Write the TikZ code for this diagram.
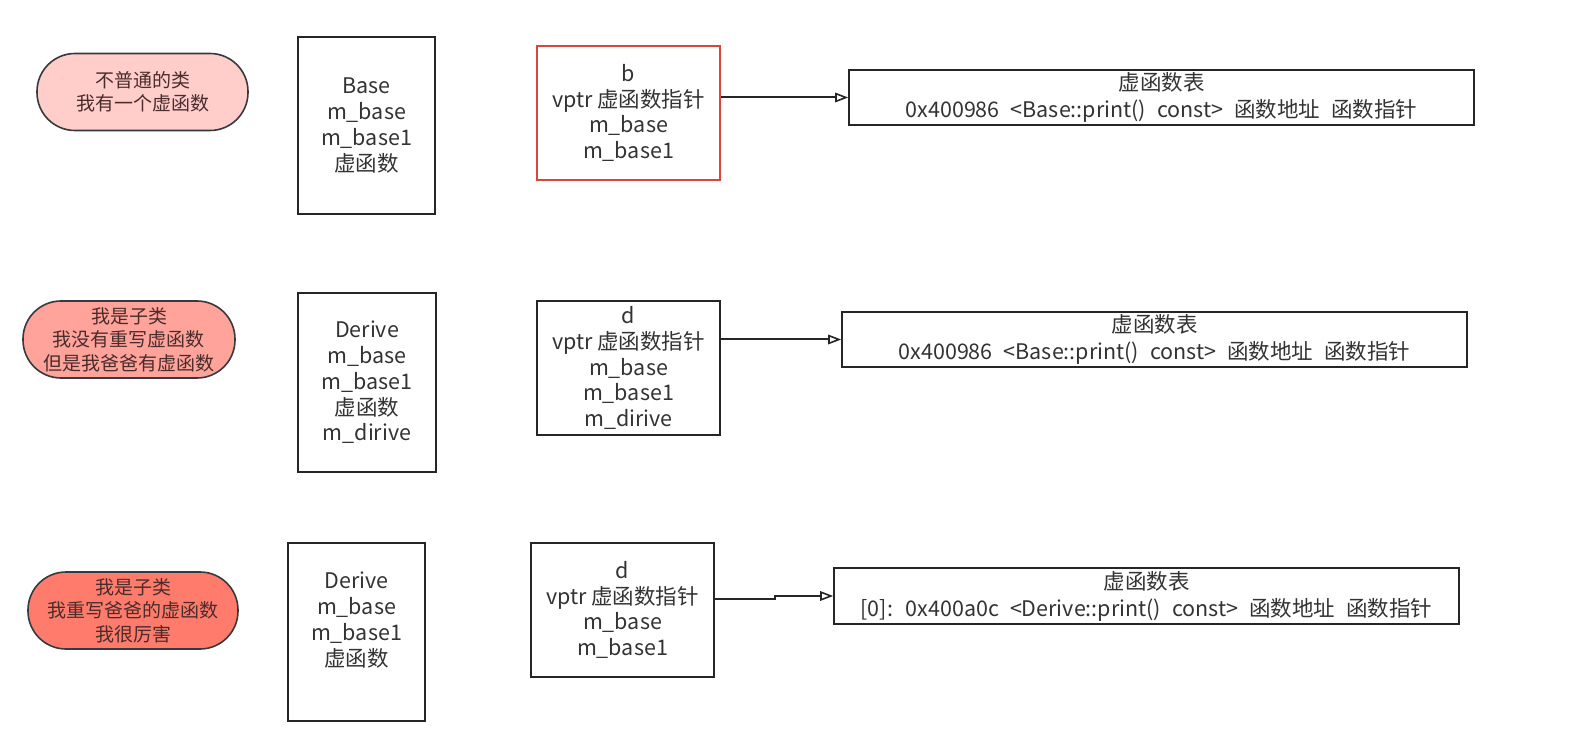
\documentclass[tikz,border=0pt]{standalone}
\usepackage{fontspec}
\setmainfont{Noto Sans CJK SC}
\usetikzlibrary{arrows.meta,calc}
\definecolor{inkgray}{HTML}{333333}
\definecolor{edgegray}{HTML}{36393D}
\definecolor{pinkA}{HTML}{FFCECA}
\definecolor{pinkB}{HTML}{FFA39B}
\definecolor{pinkC}{HTML}{FF7B6B}
\definecolor{objred}{HTML}{D9473C}
\definecolor{pilltext}{HTML}{4A2C2C}
% table rows use wider word spaces
\newcommand\tabletextfont{\fontsize{21.5}{27}\selectfont\spaceskip 11pt plus 1pt\relax}
\tikzset{
  pill/.style={draw=edgegray, line width=1.6pt, rounded corners=38pt,
    minimum width=#1, minimum height=77pt, inner sep=0pt, align=center,
    text=pilltext, font=\fontsize{19}{23.5}\selectfont},
  classbox/.style={draw=black!85, line width=1.6pt, minimum width=137pt,
    minimum height=178pt, inner sep=0pt, align=center, text=inkgray,
    font=\fontsize{21.5}{25.8}\selectfont},
  objbox/.style={draw=black!85, line width=1.6pt, minimum width=183pt,
    minimum height=134pt, inner sep=0pt, align=center, text=inkgray,
    font=\fontsize{21.5}{25.8}\selectfont},
  tablebox/.style={draw=black!85, line width=1.6pt, minimum width=625pt,
    minimum height=55pt, inner sep=0pt, align=center, text=inkgray,
    font=\tabletextfont},
  link/.style={draw=black!85, line width=2pt,
    -{Triangle[open, length=13pt, width=9.5pt, line width=1.6pt]}}
}
\begin{document}
\begin{tikzpicture}[x=1pt, y=-1pt]
\fill[white] (0,0) rectangle (1583,735);
\useasboundingbox (0,0) rectangle (1583,735);

% first row: class with its own virtual function
\node[pill=211pt, fill=pinkA] (e1) at (142.5,92) {不普通的类\\我有一个虚函数};
\node[classbox, minimum height=177pt] (base) at (366.5,125.5)
  {Base\\m\_base\\m\_base1\\虚函数};
\node[objbox, draw=objred] (bobj) at (628.5,113)
  {b\\vptr 虚函数指针\\m\_base\\m\_base1};
\node[tablebox] (t1) at (1161.5,97.5)
  {虚函数表\\0x400986 <Base::print() const> 函数地址 函数指针};
\draw[link] (t1.west -| bobj.east) -- (t1.west);

% second row: derived class that keeps the inherited function
\node[pill=212pt, fill=pinkB] (e2) at (129,339.5)
  {我是子类\\我没有重写虚函数\\但是我爸爸有虚函数};
\node[classbox, minimum width=138pt, minimum height=179pt] (der) at (367,382.5)
  {Derive\\m\_base\\m\_base1\\虚函数\\m\_dirive};
\node[objbox] (dobj) at (628.5,368)
  {d\\vptr 虚函数指针\\m\_base\\m\_base1\\m\_dirive};
\node[tablebox] (t2) at (1154.5,339.5)
  {虚函数表\\0x400986 <Base::print() const> 函数地址 函数指针};
\draw[link] ($(dobj.east)+(0,-29)$) -- ++(60,0) |- (t2.west);

% third row: derived class that overrides the function
\node[pill=210pt, fill=pinkC] (e3) at (133,610.5)
  {我是子类\\我重写爸爸的虚函数\\我很厉害};
\node[classbox] (der2) at (356.5,632)
  {Derive\\m\_base\\m\_base1\\虚函数\\~};
\node[objbox] (dobj2) at (622.5,610)
  {d\\vptr 虚函数指针\\m\_base\\m\_base1};
\node[tablebox, minimum height=56pt] (t3) at (1146.5,596)
  {虚函数表\\{[0]}: 0x400a0c <Derive::print() const> 函数地址 函数指针};
\draw[link] ($(dobj2.east)+(0,-11)$) -- ++(60,0) |- (t3.west);
\end{tikzpicture}
\end{document}
